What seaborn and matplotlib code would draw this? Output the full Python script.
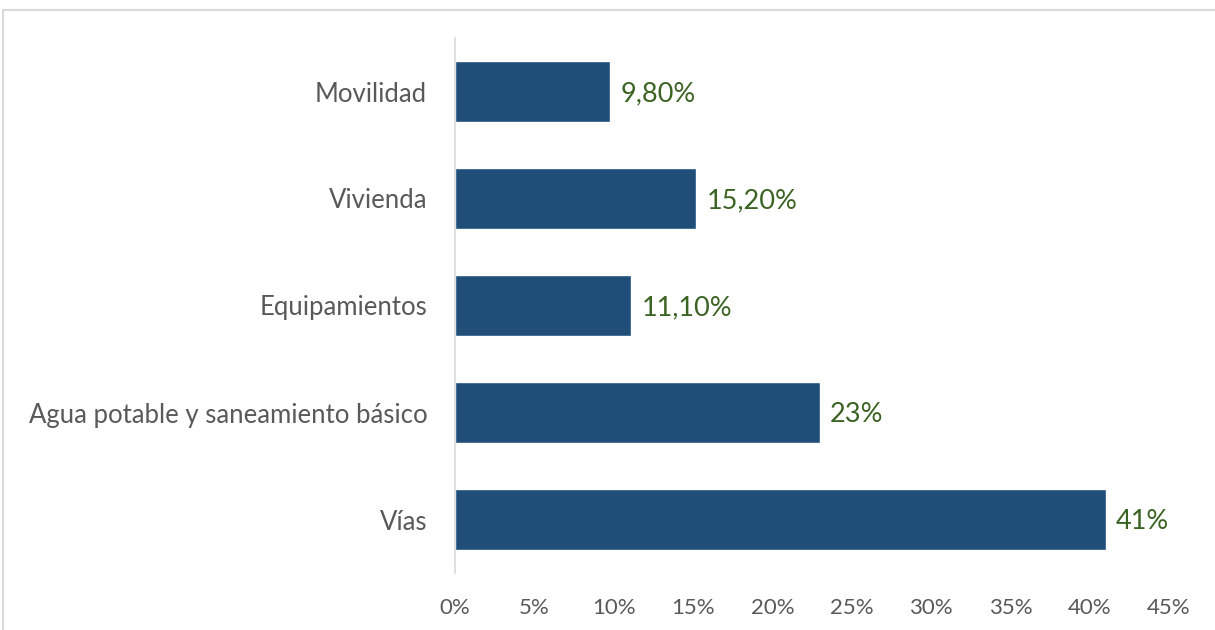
import numpy as np
import pandas as pd
import matplotlib
matplotlib.use('Agg')
import matplotlib.pyplot as plt
from matplotlib.patches import Rectangle
import seaborn as sns

# ── Data ──────────────────────────────────────────────────────
categories = ["Movilidad", "Vivienda", "Equipamientos",
              "Agua potable y saneamiento básico", "Vías"]
values = [9.8, 15.2, 11.1, 23.0, 41.0]
value_labels = ["9,80%", "15,20%", "11,10%", "23%", "41%"]
x_ticks = [0, 5, 10, 15, 20, 25, 30, 35, 40, 45]
x_tick_labels = [f"{t}%" for t in x_ticks]

BAR_COLOR = "#1F4E79"
LABEL_COLOR = "#3B6323"
TEXT_COLOR = "#595959"

sns.set_style("white")
plt.rcParams['font.family'] = ['Lato', 'DejaVu Sans']

df = pd.DataFrame({"cat": categories, "val": values})

fig = plt.figure(figsize=(12.15, 6.3), dpi=100)
ax = fig.add_axes([455 / 1215, 1 - 573 / 630, (1169 - 455) / 1215, (573 - 38) / 630])

sns.barplot(data=df, x="val", y="cat", color=BAR_COLOR, saturation=1,
            width=0.57, ax=ax)

for i, (v, lab) in enumerate(zip(values, value_labels)):
    ax.text(v + 0.65, i + 0.02, lab, va="center", ha="left",
            fontsize=19.5, color=LABEL_COLOR)

ax.set_xlim(0, 45)
ax.set_xticks(x_ticks)
ax.set_xticklabels(x_tick_labels)
ax.set_xlabel("")
ax.set_ylabel("")
ax.tick_params(axis="x", length=0, pad=18, labelsize=16, labelcolor=TEXT_COLOR)
ax.tick_params(axis="y", length=0, pad=20, labelsize=18.5, labelcolor=TEXT_COLOR)

for s in ["top", "right", "bottom"]:
    ax.spines[s].set_visible(False)
ax.spines["left"].set_color("#D9D9D9")
ax.spines["left"].set_linewidth(1.2)

# outer chart border (top and left visible, rest cropped)
fig.patches.append(Rectangle((3 / 1215, -0.05), 1.1, 1 - 10 / 630 + 0.05,
                             transform=fig.transFigure, fill=False,
                             edgecolor="#D9D9D9", linewidth=1.5))

fig.savefig("out.png", dpi=100)
